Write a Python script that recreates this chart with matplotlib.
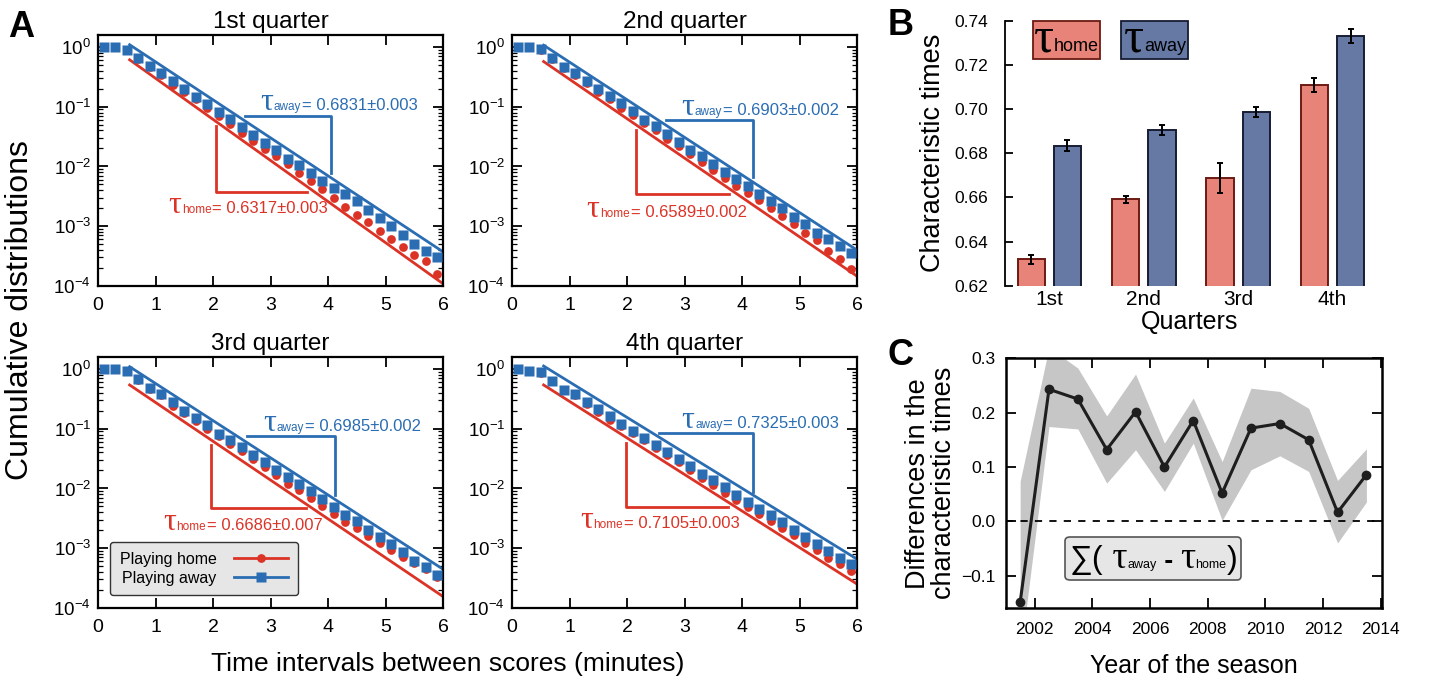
import numpy as np
import matplotlib
matplotlib.use('Agg')
import matplotlib.pyplot as plt
from matplotlib.offsetbox import TextArea, HPacker, AnnotationBbox
from matplotlib.lines import Line2D
from matplotlib.patches import Rectangle
from matplotlib.ticker import LogLocator, NullFormatter

plt.rcParams['font.family'] = ['Liberation Sans', 'DejaVu Sans']
SERIF = ['Liberation Serif', 'DejaVu Serif']

RED = '#dc3327'
BLUE = '#2a6db3'
RED_BAR, RED_EDGE = '#e8837a', '#6b1a12'
BLUE_BAR, BLUE_EDGE = '#6579a4', '#161d33'

# ---- panel A data (cumulative distributions) ----
t = [0.1, 0.3, 0.5, 0.7, 0.9, 1.1, 1.3, 1.5, 1.7, 1.9, 2.1, 2.3, 2.5, 2.7, 2.9,
     3.1, 3.3, 3.5, 3.7, 3.9, 4.1, 4.3, 4.5, 4.7, 4.9, 5.1, 5.3, 5.5, 5.7, 5.9]
quarters = ['1st quarter', '2nd quarter', '3rd quarter', '4th quarter']

home_q1 = [1.0, 1.0, 0.9, 0.64, 0.46, 0.34, 0.235, 0.178, 0.133, 0.094, 0.070, 0.051, 0.037, 0.027, 0.0196,
           0.015, 0.011, 0.0079, 0.0058, 0.0042, 0.0030, 0.0021, 0.00156, 0.00117, 0.00083, 0.0006, 0.00045,
           0.00033, 0.00026, 0.00016]
away_q1 = [1.0, 1.0, 0.90, 0.66, 0.48, 0.36, 0.27, 0.195, 0.147, 0.11, 0.081, 0.062, 0.045, 0.034, 0.0245,
           0.019, 0.0133, 0.0107, 0.0079, 0.0058, 0.0044, 0.0034, 0.0026, 0.0019, 0.00138, 0.001, 0.00072,
           0.00051, 0.00038, 0.00030]
home_q2 = [1.0, 1.0, 0.9, 0.64, 0.45, 0.34, 0.25, 0.178, 0.134, 0.097, 0.073, 0.053, 0.040, 0.029, 0.022,
           0.0162, 0.012, 0.0088, 0.0065, 0.0048, 0.0036, 0.0027, 0.0020, 0.00147, 0.00108, 0.00078, 0.00059,
           0.00039, 0.00028, 0.00019]
away_q2 = [1.0, 1.0, 0.91, 0.66, 0.47, 0.36, 0.265, 0.20, 0.149, 0.114, 0.084, 0.061, 0.047, 0.035, 0.0255,
           0.019, 0.0147, 0.0108, 0.0081, 0.0062, 0.0048, 0.0035, 0.0026, 0.0020, 0.00144, 0.00107, 0.00078,
           0.00062, 0.00047, 0.00036]
home_q3 = [1.0, 1.0, 0.92, 0.65, 0.46, 0.36, 0.236, 0.183, 0.136, 0.10, 0.075, 0.055, 0.042, 0.031, 0.023,
           0.0167, 0.0121, 0.0093, 0.0070, 0.0051, 0.0038, 0.0028, 0.00215, 0.00161, 0.00124, 0.00094, 0.00070,
           0.00056, 0.00045, 0.00033]
away_q3 = [1.0, 1.0, 0.93, 0.67, 0.48, 0.38, 0.275, 0.20, 0.154, 0.116, 0.081, 0.064, 0.049, 0.036, 0.0275,
           0.020, 0.0155, 0.0117, 0.0091, 0.0066, 0.0049, 0.0036, 0.0029, 0.00204, 0.00156, 0.00117, 0.00085,
           0.00062, 0.00048, 0.00036]
home_q4 = [1.0, 0.94, 0.87, 0.62, 0.44, 0.37, 0.257, 0.194, 0.141, 0.109, 0.085, 0.064, 0.048, 0.036, 0.0275,
           0.020, 0.015, 0.0114, 0.0085, 0.0064, 0.0049, 0.0038, 0.0029, 0.00215, 0.00165, 0.00124, 0.00093,
           0.00069, 0.00054, 0.00042]
away_q4 = [1.0, 0.94, 0.88, 0.63, 0.45, 0.38, 0.28, 0.213, 0.161, 0.12, 0.090, 0.070, 0.053, 0.040, 0.031,
           0.0235, 0.0178, 0.0138, 0.0105, 0.0079, 0.0060, 0.0045, 0.0036, 0.0027, 0.0020, 0.00155, 0.00117,
           0.00091, 0.00068, 0.00055]
home_all = [home_q1, home_q2, home_q3, home_q4]
away_all = [away_q1, away_q2, away_q3, away_q4]

tau_home = [0.6317, 0.6589, 0.6686, 0.7105]
tau_home_err = ['0.003', '0.002', '0.007', '0.003']
tau_away = [0.6831, 0.6903, 0.6985, 0.7325]
tau_away_err = ['0.003', '0.002', '0.002', '0.003']
# value of each fitted line where it starts (t = 0.55)
fit_home_start = [0.61, 0.57, 0.54, 0.54]
fit_away_start = [1.09, 1.07, 1.09, 1.12]

# ---- panel B data ----
bar_labels = ['1st', '2nd', '3rd', '4th']
bar_home = [0.6319, 0.6591, 0.6688, 0.7107]
bar_home_err = [0.0019, 0.0015, 0.0067, 0.0032]
bar_away = [0.6834, 0.6906, 0.6986, 0.7329]
bar_away_err = [0.0026, 0.0023, 0.0021, 0.0032]

# ---- panel C data ----
years = [2001.5, 2002.5, 2003.5, 2004.5, 2005.5, 2006.5, 2007.5, 2008.5, 2009.5, 2010.5, 2011.5, 2012.5, 2013.5]
diff = [-0.149, 0.243, 0.225, 0.132, 0.2015, 0.100, 0.1855, 0.052, 0.1715, 0.180, 0.150, 0.0165, 0.0857]
diff_upper = [0.0735, 0.32, 0.282, 0.194, 0.271, 0.144, 0.227, 0.110, 0.245, 0.239, 0.208, 0.0753, 0.1335]
diff_lower = [-0.25, 0.1745, 0.170, 0.0704, 0.1317, 0.0551, 0.1439, 0.0018, 0.0949, 0.1206, 0.0918, -0.0398, 0.0355]

# annotation layout for panel A
bracket_away = [(2.56, 0.070, 4.06, 0.0078), (2.68, 0.060, 4.19, 0.0066),
                (2.59, 0.076, 4.12, 0.0079), (2.56, 0.085, 4.19, 0.0087)]
bracket_home = [(2.06, 0.047, 0.0038, 3.63), (2.16, 0.041, 0.0035, 3.77),
                (1.96, 0.054, 0.0048, 3.62), (1.99, 0.058, 0.0049, 3.75)]
label_away_pos = [(2.82, 0.117), (2.94, 0.097), (2.87, 0.124), (2.95, 0.136)]
label_home_pos = [(1.22, 0.0022), (1.30, 0.0019), (1.13, 0.0027), (1.18, 0.0029)]


def tau_label(ax, x, y, sub, rest, color):
    parts = [TextArea('τ', textprops=dict(color=color, size=23, family=SERIF)),
             TextArea(sub, textprops=dict(color=color, size=8.5)),
             TextArea(rest, textprops=dict(color=color, size=12))]
    box = HPacker(children=parts, align='baseline', pad=0, sep=0.5)
    ab = AnnotationBbox(box, (x, y), xycoords='data', frameon=False, box_alignment=(0, 0.5), pad=0)
    ax.add_artist(ab)


fig = plt.figure(figsize=(14.5, 6.81), dpi=100)

W, H = 1450.0, 681.0
rects = [(98, 35), (512, 35), (98, 357), (512, 357)]
for i, (px, py) in enumerate(rects):
    ax = fig.add_axes([px / W, 1 - (py + 251) / H, 345 / W, 251 / H])
    ax.set_yscale('log')
    fit_t = np.linspace(0.55, 6.0, 50)
    ax.plot(fit_t, fit_home_start[i] * np.exp(-(fit_t - 0.55) / tau_home[i]), color=RED, lw=2, zorder=2)
    ax.plot(fit_t, fit_away_start[i] * np.exp(-(fit_t - 0.55) / tau_away[i]), color=BLUE, lw=2, zorder=2)
    ax.plot(t, home_all[i], 'o', color=RED, ms=6.3, mec='none', zorder=3)
    ax.plot(t, away_all[i], 's', color=BLUE, ms=7, mec='none', zorder=4)

    x0, yh, x1, ye = bracket_away[i]
    ax.plot([x0, x1, x1], [yh, yh, ye], color=BLUE, lw=2, zorder=2)
    xv, yt, yb, xe = bracket_home[i]
    ax.plot([xv, xv, xe], [yt, yb, yb], color=RED, lw=2, zorder=2)
    tau_label(ax, *label_away_pos[i], 'away', '= %.4f±%s' % (tau_away[i], tau_away_err[i]), BLUE)
    tau_label(ax, *label_home_pos[i], 'home', '= %.4f±%s' % (tau_home[i], tau_home_err[i]), RED)

    ax.set_xlim(0, 6)
    ax.set_ylim(1e-4, 10 ** 0.2)
    ax.set_xticks([0, 1, 2, 3, 4, 5, 6])
    ax.yaxis.set_major_locator(LogLocator(base=10, numticks=10))
    ax.yaxis.set_minor_locator(LogLocator(base=10, subs=np.arange(2, 10), numticks=20))
    ax.yaxis.set_minor_formatter(NullFormatter())
    ax.tick_params(which='both', direction='in', top=True, right=True)
    ax.tick_params(which='major', length=7, width=1.3)
    ax.tick_params(which='minor', length=3.5, width=0.9)
    ax.tick_params(axis='x', labelsize=14, pad=8)
    ax.tick_params(axis='y', labelsize=13.5, pad=5)
    for s in ax.spines.values():
        s.set_linewidth(1.6)
    ax.set_title(quarters[i], fontsize=17.5, pad=5)

    if i == 2:
        handles = [Line2D([], [], color=RED, marker='o', ms=6.3, lw=2, mec='none'),
                   Line2D([], [], color=BLUE, marker='s', ms=7, lw=2, mec='none')]
        ax.legend(handles, ['Playing home', 'Playing away'], loc='lower left', bbox_to_anchor=(0.035, 0.05),
                  markerfirst=False, fontsize=11.5, handlelength=3.4, frameon=True, fancybox=True,
                  facecolor='#e6e6e6', edgecolor='#333333', framealpha=1, borderaxespad=0,
                  labelspacing=0.25, handletextpad=1.1, borderpad=0.6)

fig.text(20 / W, 1 - 310 / H, 'Cumulative distributions', rotation=90, ha='center', va='center', fontsize=23)
fig.text(447.5 / W, 1 - 664 / H, 'Time intervals between scores (minutes)', ha='center', va='center', fontsize=19)

# ---- panel B ----
axB = fig.add_axes([1005 / W, 1 - 285.7 / H, 370 / W, 265 / H])
xpos = np.arange(len(bar_labels))
axB.bar(xpos - 0.192, bar_home, width=0.29, color=RED_BAR, edgecolor=RED_EDGE, linewidth=1.4, zorder=2)
axB.bar(xpos + 0.192, bar_away, width=0.29, color=BLUE_BAR, edgecolor=BLUE_EDGE, linewidth=1.4, zorder=2)
axB.errorbar(xpos - 0.192, bar_home, yerr=bar_home_err, fmt='none', ecolor='black', elinewidth=1.4,
             capsize=2.5, capthick=1.4, zorder=3)
axB.errorbar(xpos + 0.192, bar_away, yerr=bar_away_err, fmt='none', ecolor='black', elinewidth=1.4,
             capsize=2.5, capthick=1.4, zorder=3)
axB.set_ylim(0.62, 0.74)
axB.set_xlim(-0.47, 3.45)
axB.set_yticks([0.62, 0.64, 0.66, 0.68, 0.70, 0.72, 0.74])
axB.set_yticklabels(['%.2f' % v for v in [0.62, 0.64, 0.66, 0.68, 0.70, 0.72, 0.74]])
axB.set_xticks(xpos)
axB.set_xticklabels(bar_labels)
for s in ['top', 'right', 'bottom']:
    axB.spines[s].set_visible(False)
axB.spines['left'].set_linewidth(1.3)
axB.tick_params(axis='y', direction='in', length=6, width=1.3, labelsize=12.5, pad=12)
axB.tick_params(axis='x', length=0, labelsize=15, pad=3)
axB.set_ylabel('Characteristic times', fontsize=19.5, labelpad=6)
axB.set_xlabel('Quarters', fontsize=18, labelpad=1)

for (xa, xb, fc, ec, sub) in [(-0.17, 0.537, RED_BAR, RED_EDGE, 'home'), (0.758, 1.474, BLUE_BAR, BLUE_EDGE, 'away')]:
    axB.add_patch(Rectangle((xa, 0.7228), xb - xa, 0.0172, facecolor=fc, edgecolor=ec, lw=1.3,
                            clip_on=False, zorder=4))
    box = HPacker(children=[TextArea('τ', textprops=dict(size=36, family=SERIF)),
                            TextArea(sub, textprops=dict(size=13))], align='baseline', pad=0, sep=0)
    axB.add_artist(AnnotationBbox(box, ((xa + xb) / 2, 0.7318), xycoords='data', frameon=False,
                                  box_alignment=(0.5, 0.5), pad=0, zorder=5))

# ---- panel C ----
axC = fig.add_axes([1005.7 / W, 1 - 608.3 / H, 376 / W, 250 / H])
axC.fill_between(years, diff_lower, diff_upper, color='#c6c6c6', lw=0, zorder=1)
axC.axhline(0, color='black', lw=1.3, ls=(0, (4, 4)), zorder=2)
axC.plot(years, diff, '-o', color='#1e1e1e', lw=2.2, ms=6, zorder=3)
axC.set_xlim(2001, 2014.03)
axC.set_ylim(-0.16, 0.3)
axC.set_xticks([2002, 2004, 2006, 2008, 2010, 2012, 2014])
axC.set_yticks([-0.1, 0.0, 0.1, 0.2, 0.3])
axC.set_yticklabels(['\u22120.1', '0.0', '0.1', '0.2', '0.3'])
axC.tick_params(direction='in', top=True, right=True, length=7, width=1.3, labelsize=12.5)
axC.tick_params(axis='x', pad=10)
axC.tick_params(axis='y', pad=7)
for s in axC.spines.values():
    s.set_linewidth(1.8)
axC.set_ylabel('Differences in the\ncharacteristic times', fontsize=19.5, linespacing=1.0, labelpad=3)
axC.set_xlabel('Year of the season', fontsize=18, labelpad=12)

parts = [TextArea('∑(', textprops=dict(size=23)),
         TextArea(' τ', textprops=dict(size=27, family=SERIF)),
         TextArea('away', textprops=dict(size=9)),
         TextArea(' - ', textprops=dict(size=19, weight='bold')),
         TextArea('τ', textprops=dict(size=27, family=SERIF)),
         TextArea('home', textprops=dict(size=9)),
         TextArea(')', textprops=dict(size=23))]
sum_box = HPacker(children=parts, align='baseline', pad=0, sep=0)
axC.add_artist(AnnotationBbox(sum_box, (2006.12, -0.068), xycoords='data', frameon=True, box_alignment=(0.5, 0.5),
                              pad=0.25, bboxprops=dict(boxstyle='round,pad=0.3', fc='#e6e6e6', ec='#555555', lw=1.2),
                              zorder=5))

fig.text(8 / W, 1 - 10 / H, 'A', fontsize=26, weight='bold', va='top')
fig.text(888 / W, 1 - 8 / H, 'B', fontsize=26, weight='bold', va='top')
fig.text(888 / W, 1 - 338 / H, 'C', fontsize=26, weight='bold', va='top')

fig.savefig('out.png', dpi=100)
